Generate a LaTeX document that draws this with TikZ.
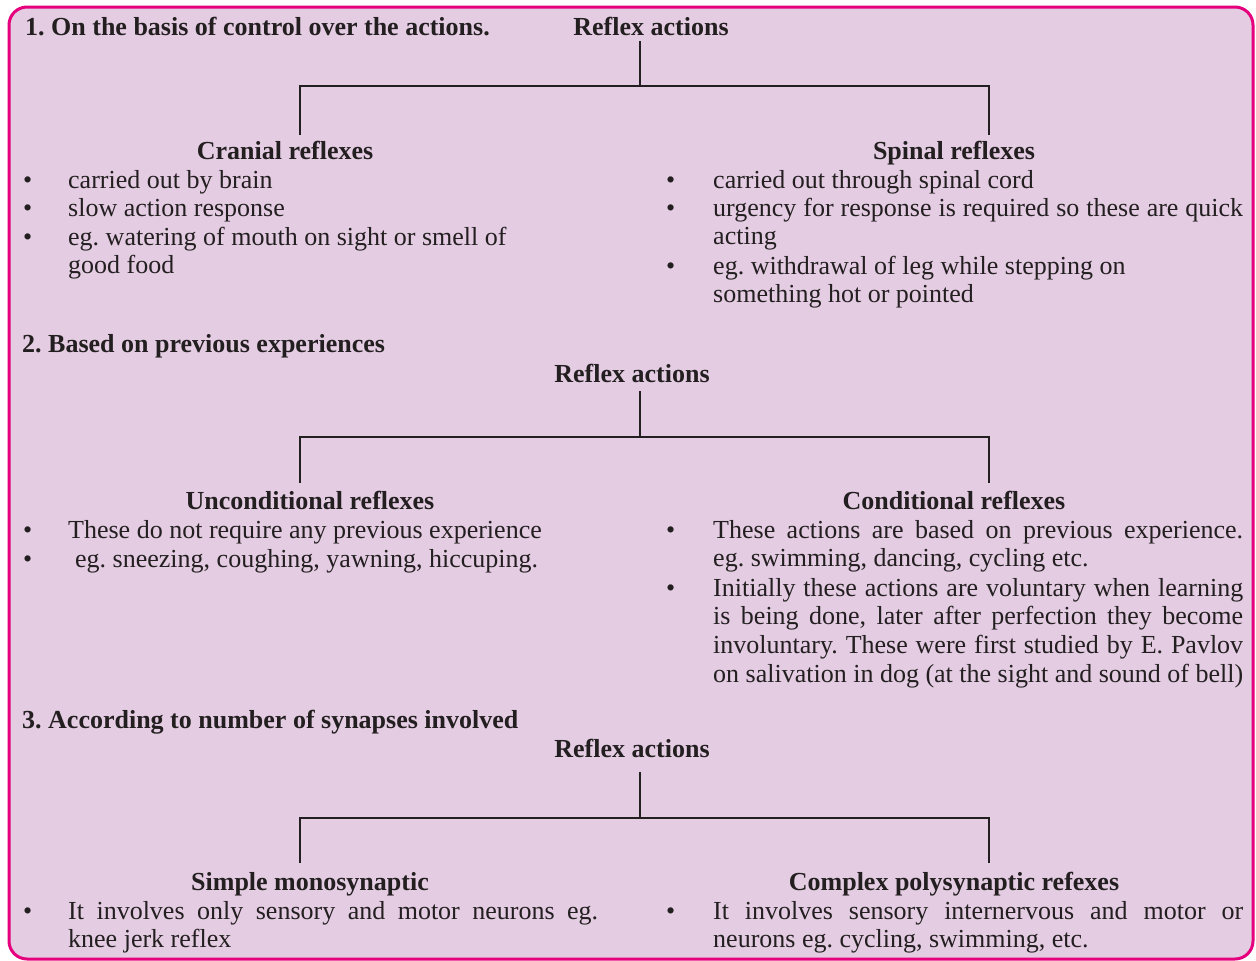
\documentclass[tikz,border=0pt]{standalone}
\usepackage{fontspec}
\setmainfont{Liberation Serif}
\definecolor{boxfill}{HTML}{E4CCE2}
\definecolor{boxline}{HTML}{E5007D}
\definecolor{ink}{HTML}{231F20}
\newcommand{\bodysize}{\fontsize{26pt}{28.8pt}\selectfont\frenchspacing}
\tikzset{title/.style={font=\bodysize\bfseries, anchor=base west, inner sep=0pt}}
\tikzset{head/.style={font=\bodysize\bfseries, anchor=base, inner sep=0pt}}
\tikzset{dot/.style={anchor=base west, inner sep=0pt}}
\tikzset{txt/.style={anchor=base west, inner sep=0pt, text width=#1, align=justify}}
\tikzset{txt/.default=530pt}
\tikzset{tree/.style={line width=1.2pt, draw=ink}}

\begin{document}
\begin{tikzpicture}[x=1pt, y=-1pt, every node/.style={font=\bodysize, text=ink}]
    \useasboundingbox (0,0) rectangle (1256,961);
    \draw[line width=3pt, draw=boxline, fill=boxfill, rounded corners=18pt] (9,7) rectangle (1253,959);

    % 1. control over the actions
    \node[title] (s1) at (25,35) {1. On the basis of control over the actions.};
    \node[head] (root1) at (651,35) {Reflex actions};
    \coordinate (t1) at (640,41);
    \coordinate (j1) at (640,86);
    \coordinate (jl1) at (300,86);
    \coordinate (jr1) at (989,86);
    \coordinate (el1) at (300,135);
    \coordinate (er1) at (989,135);
    \draw[tree] (t1) -- (j1);
    \draw[tree] (el1) -- (jl1) -- (jr1) -- (er1);
    \node[head] (cran) at (285,159) {Cranial reflexes};
    \node[head] (spin) at (954,159) {Spinal reflexes};
    \node[dot] (d11) at (23,188) {\textbullet};
    \node[txt] (i11) at (68,188) {carried out by brain};
    \node[dot] (d12) at (23,216) {\textbullet};
    \node[txt] (i12) at (68,216) {slow action response};
    \node[dot] (d13) at (23,245) {\textbullet};
    \node[txt] (i13) at (68,245) {eg. watering of mouth on sight or smell of\\ good food};
    \node[dot] (d14) at (666,188) {\textbullet};
    \node[txt] (i14) at (713,188) {carried out through spinal cord};
    \node[dot] (d15) at (666,216) {\textbullet};
    \node[txt] (i15) at (713,216) {urgency for response is required so these are quick\linebreak acting};
    \node[dot] (d16) at (666,274) {\textbullet};
    \node[txt] (i16) at (713,274) {eg. withdrawal of leg while stepping on\\ something hot or pointed};

    % 2. previous experiences
    \node[title] (s2) at (22,352) {2. Based on previous experiences};
    \node[head] (root2) at (632,382) {Reflex actions};
    \coordinate (t2) at (640,391);
    \coordinate (j2) at (640,437);
    \coordinate (jl2) at (300,437);
    \coordinate (jr2) at (989,437);
    \coordinate (el2) at (300,483);
    \coordinate (er2) at (989,483);
    \draw[tree] (t2) -- (j2);
    \draw[tree] (el2) -- (jl2) -- (jr2) -- (er2);
    \node[head] (uncond) at (310,509) {Unconditional reflexes};
    \node[head] (cond) at (954,509) {Conditional reflexes};
    \node[dot] (d21) at (23,538) {\textbullet};
    \node[txt] (i21) at (68,538) {These do not require any previous experience};
    \node[dot] (d22) at (23,567) {\textbullet};
    \node[txt] (i22) at (75,567) {eg. sneezing, coughing, yawning, hiccuping.};
    \node[dot] (d23) at (666,538) {\textbullet};
    \node[txt] (i23) at (713,538) {These actions are based on previous experience.\linebreak eg. swimming, dancing, cycling etc.};
    \node[dot] (d24) at (666,596) {\textbullet};
    \node[txt] (i24) at (713,596) {Initially these actions are voluntary when learning\linebreak is being done, later after perfection they become\linebreak involuntary. These were first studied by E. Pavlov\linebreak on salivation in dog (at the sight and sound of bell)};

    % 3. number of synapses
    \node[title] (s3) at (22,728) {3. According to number of synapses involved};
    \node[head] (root3) at (632,757) {Reflex actions};
    \coordinate (t3) at (640,772);
    \coordinate (j3) at (640,818);
    \coordinate (jl3) at (300,818);
    \coordinate (jr3) at (989,818);
    \coordinate (el3) at (300,863);
    \coordinate (er3) at (989,863);
    \draw[tree] (t3) -- (j3);
    \draw[tree] (el3) -- (jl3) -- (jr3) -- (er3);
    \node[head] (mono) at (310,890) {Simple monosynaptic};
    \node[head] (poly) at (954,890) {Complex polysynaptic refexes};
    \node[dot] (d31) at (23,919) {\textbullet};
    \node[txt] (i31) at (68,919) {It involves only sensory and motor neurons eg.\linebreak knee jerk reflex};
    \node[dot] (d32) at (666,919) {\textbullet};
    \node[txt] (i32) at (713,919) {It involves sensory internervous and motor or\linebreak neurons eg. cycling, swimming, etc.};
\end{tikzpicture}
\end{document}
